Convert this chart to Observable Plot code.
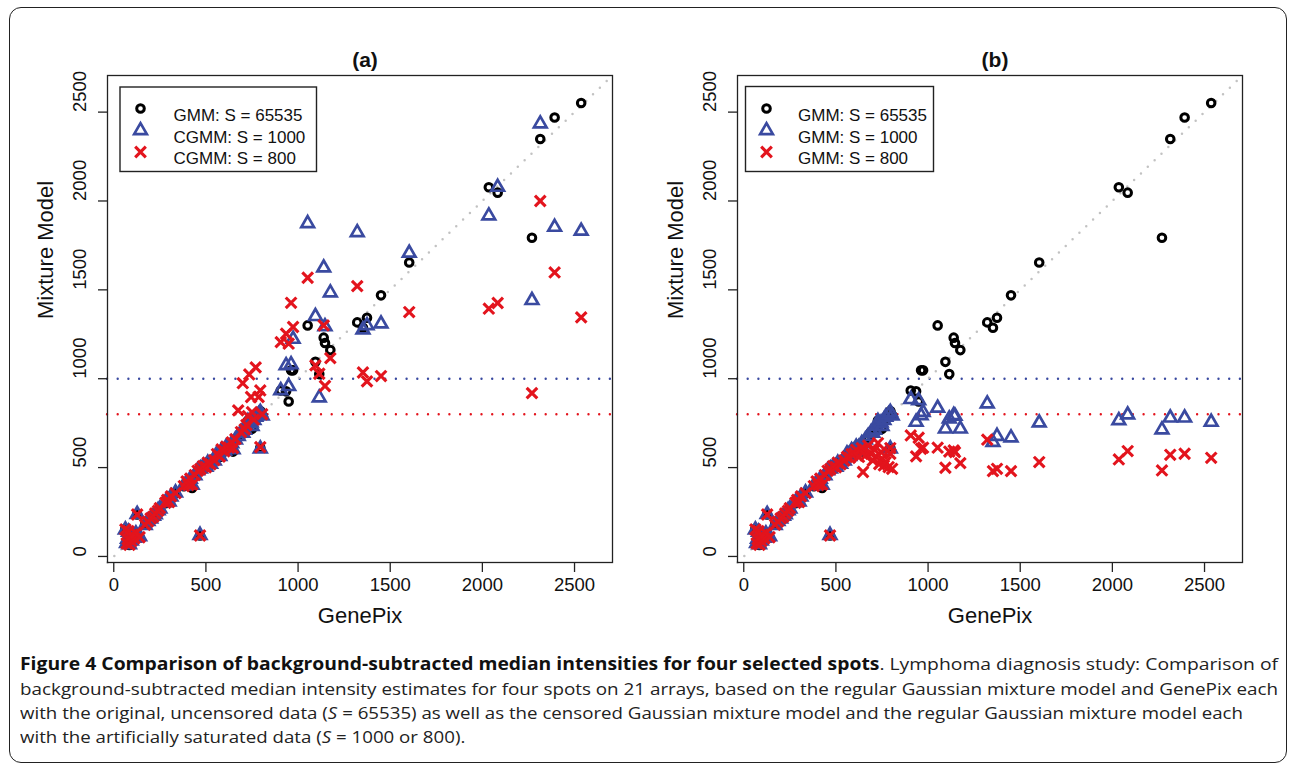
<!DOCTYPE html>
<html>
<head>
<meta charset="utf-8">
<script src="https://cdn.jsdelivr.net/npm/d3@7"></script>
<script src="https://cdn.jsdelivr.net/npm/@observablehq/plot@0.6"></script>
<style>
  body { margin: 0; background: #fff; }
  #wrap { position: relative; width: 1290px; height: 765px; overflow: hidden; background: #fff; }
  #border { position: absolute; left: 9px; top: 7px; width: 1278px; height: 756px; border: 1.5px solid #222; border-radius: 12px; box-sizing: border-box; }
  .panel { position: absolute; top: 0; }
  .cap { position: absolute; left: 20px; white-space: nowrap; font-family: "Open Sans", "Noto Sans", sans-serif; font-size: 17px; line-height: 24px; color: #222; transform-origin: 0 50%; }
  .cap b { color: #111; }
</style>
</head>
<body>
<div id="wrap">
  <div id="border"></div>
  <div id="pa" class="panel" style="left:0px"></div>
  <div id="pb" class="panel" style="left:630px"></div>
  <div class="cap" data-w="1258" style="top:652px"><b>Figure 4 Comparison of background-subtracted median intensities for four selected spots</b>. Lymphoma diagnosis study: Comparison of</div>
  <div class="cap" data-w="1258" style="top:677px">background-subtracted median intensity estimates for four spots on 21 arrays, based on the regular Gaussian mixture model and GenePix each</div>
  <div class="cap" data-w="1223" style="top:701px">with the original, uncensored data (<i>S</i> = 65535) as well as the censored Gaussian mixture model and the regular Gaussian mixture model each</div>
  <div class="cap" data-w="0" style="top:725px">with the artificially saturated data (<i>S</i> = 1000 or 800).</div>
</div>
<script>
// ---------------- data ----------------
const genepix = [
  2536, 2392, 2314, 2269, 2035, 2083, 1603, 1450, 1374, 1352, 1321,
  1052, 1139, 1146, 1175, 1094, 1115, 906, 935, 949, 962, 973,
  63, 70, 75, 80, 85, 90, 95, 100, 112, 120, 127, 140,
  170, 185, 200, 215, 225, 240, 250, 280, 290, 300, 310, 335,
  380, 395, 405, 415, 425, 440, 455, 468, 470, 485, 500, 510, 525,
  545, 560, 575, 585, 600, 610, 625, 640, 647, 660, 675,
  690, 700, 710, 720, 728, 735, 745, 750, 760, 770, 786, 795, 795, 805
];
const gmm65535 = [
  2551, 2470, 2349, 1793, 2077, 2047, 1654, 1469, 1343, 1287, 1317,
  1300, 1231, 1201, 1161, 1095, 1026, 934, 929, 872, 1047, 1047,
  156, 72, 95, 140, 65, 110, 85, 120, 100, 130, 236, 110,
  180, 195, 215, 225, 240, 255, 270, 300, 320, 305, 340, 355,
  395, 420, 400, 440, 385, 460, 480, 118, 490, 510, 500, 530, 515,
  540, 575, 560, 600, 590, 620, 610, 640, 590, 660, 670,
  700, 690, 715, 730, 765, 745, 755, 718, 770, 780, 803, 818, 612, 795
];
const cgmm1000 = [
  1831, 1853, 2435, 1441, 1917, 2078, 1707, 1309, 1300, 1276, 1823,
  1874, 1624, 1294, 1484, 1351, 893, 934, 1075, 957, 1080, 1223,
  150, 75, 98, 138, 68, 112, 88, 118, 104, 128, 238, 112,
  176, 198, 212, 228, 236, 258, 268, 304, 316, 308, 336, 358,
  398, 416, 404, 436, 402, 456, 484, 120, 494, 506, 504, 526, 520,
  538, 578, 564, 596, 594, 616, 614, 636, 602, 656, 676,
  696, 694, 712, 734, 760, 748, 752, 732, 766, 784, 798, 812, 606, 792
];
const cgmm800 = [
  1345, 1598, 2000, 919, 1394, 1426, 1375, 1015, 985, 1035, 1521,
  1568, 1300, 959, 1116, 1075, 1028, 1206, 1253, 1197, 1427, 1291,
  152, 74, 96, 142, 66, 114, 86, 122, 102, 132, 236, 108,
  178, 196, 214, 224, 242, 256, 272, 302, 318, 306, 338, 356,
  396, 422, 402, 438, 404, 458, 482, 118, 492, 508, 502, 528, 518,
  542, 576, 562, 602, 592, 618, 612, 642, 610, 660, 822,
  700, 975, 715, 740, 790, 1024, 897, 812, 770, 1064, 897, 934, 615, 800
];
const gmm1000 = [
  756, 780, 780, 713, 765, 797, 752, 668, 677, 643, 859,
  835, 794, 790, 718, 718, 775, 884, 756, 878, 793, 812,
  150, 75, 98, 138, 68, 112, 88, 118, 104, 128, 238, 112,
  176, 198, 212, 228, 236, 258, 268, 304, 316, 308, 336, 358,
  398, 416, 404, 436, 402, 456, 484, 120, 494, 506, 504, 526, 520,
  538, 578, 564, 596, 594, 616, 614, 636, 602, 656, 676,
  696, 694, 712, 734, 760, 748, 752, 732, 766, 784, 798, 812, 606, 792
];
const gmm800 = [
  555, 578, 572, 484, 546, 593, 531, 480, 493, 480, 657,
  612, 597, 587, 525, 499, 590, 681, 563, 668, 606, 612,
  152, 74, 96, 142, 66, 114, 86, 122, 102, 132, 236, 108,
  178, 196, 214, 224, 242, 256, 272, 302, 318, 306, 338, 356,
  396, 422, 402, 438, 404, 458, 482, 118, 492, 508, 502, 528, 518,
  540, 560, 555, 575, 580, 600, 560, 610, 475, 568, 624,
  578, 540, 600, 560, 638, 520, 587, 550, 512, 531, 503, 578, 610, 493
];
const xTicks = [0, 500, 1000, 1500, 2000, 2500];
const yTicks = [0, 500, 1000, 1500, 2000, 2500];
const thresholds = [1000, 800];
const axisDomain = [-34, 2706];
const labelsA = ["GMM: S = 65535", "CGMM: S = 1000", "CGMM: S = 800"];
const labelsB = ["GMM: S = 65535", "GMM: S = 1000", "GMM: S = 800"];

// ---------------- drawing ----------------
const BLUE = "#3a4aa0", RED = "#e3141d";
const FONT = "'Liberation Sans', Arial, Helvetica, sans-serif";
const diag = [{x1: axisDomain[0], y1: axisDomain[0], x2: axisDomain[1], y2: axisDomain[1]}];

function makePanel(title, s1, s2, labels, lg) {
  const rows = genepix.map((g, i) => ({g, gmm: gmm65535[i], s1: s1[i], s2: s2[i]}));
  const dotted = {strokeWidth: 2.4, strokeLinecap: "round", strokeDasharray: "0 10.7"};
  const symbols = [
    {symbol: "circle", r: 3.8, stroke: "#000", strokeWidth: 3},
    {symbol: "triangle", r: 4.7, stroke: BLUE, strokeWidth: 2.7},
    {symbol: "times", r: 4.9, stroke: RED, strokeWidth: 3.1}
  ];
  const legendMarks = [];
  labels.forEach((lab, k) => {
    const dy = [33, 55, 76.5][k];
    legendMarks.push(Plot.dot([lab], {frameAnchor: "top-left", dx: lg.sym, dy, fill: "none", ...symbols[k]}));
    legendMarks.push(Plot.text([lab], {frameAnchor: "top-left", dx: lg.txt, dy, text: d => d, textAnchor: "start", fontSize: 17, fill: "#111"}));
  });
  const svg = Plot.plot({
    width: 630, height: 640,
    marginTop: 75, marginLeft: 107, marginRight: 18, marginBottom: 78,
    x: {domain: axisDomain},
    y: {domain: axisDomain},
    style: {fontFamily: FONT, fontSize: "18.5px", background: "transparent", color: "#111", overflow: "visible"},
    marks: [
      Plot.ruleY([thresholds[0]], {stroke: BLUE, ...dotted}),
      Plot.ruleY([thresholds[1]], {stroke: RED, ...dotted}),
      Plot.link(diag, {x1: "x1", y1: "y1", x2: "x2", y2: "y2", stroke: "#c2c2c2", strokeWidth: 2.5, strokeLinecap: "round", strokeDasharray: "0 9.5"}),
      Plot.dot(rows, {x: "g", y: "gmm", fill: "none", ...symbols[0]}),
      Plot.dot(rows, {x: "g", y: "s1", fill: "none", ...symbols[1]}),
      Plot.dot(rows, {x: "g", y: "s2", fill: "none", ...symbols[2]}),
      Plot.frame({stroke: "#222", strokeWidth: 1.3}),
      Plot.axisX({ticks: xTicks, tickSize: 10, tickPadding: 5, tickFormat: d => String(d), label: null, stroke: "#222", strokeWidth: 1.3}),
      Plot.axisY({ticks: yTicks, tickSize: 9, tickFormat: () => "", label: null, stroke: "#222", strokeWidth: 1.3}),
      Plot.text(yTicks, {y: d => d, text: d => String(d), frameAnchor: "left", dx: -27, rotate: -90}),
      Plot.text([title], {frameAnchor: "top", dx: 5, dy: -23, text: d => d, fontWeight: "bold", fontSize: 21}),
      Plot.text(["GenePix"], {frameAnchor: "bottom", dy: 60, text: d => d, fontSize: 22}),
      Plot.text(["Mixture Model"], {frameAnchor: "left", dx: -62, rotate: -90, text: d => d, fontSize: 22}),
      ...legendMarks
    ]
  });
  d3.select(svg).append("rect")
    .attr("x", lg.box[0]).attr("y", lg.box[1]).attr("width", lg.box[2]).attr("height", lg.box[3])
    .attr("fill", "none").attr("stroke", "#222").attr("stroke-width", 1.4);
  return svg;
}

document.getElementById("pa").appendChild(
  makePanel("(a)", cgmm1000, cgmm800, labelsA, {sym: 33, txt: 66, box: [120, 87, 196.5, 84.5]}));
document.getElementById("pb").appendChild(
  makePanel("(b)", gmm1000, gmm800, labelsB, {sym: 29, txt: 60.5, box: [115.5, 86.5, 188, 85]}));

// condense caption lines to their measured widths (last line reuses the previous scale)
let lastScale = 1;
document.querySelectorAll(".cap").forEach(el => {
  const w = el.getBoundingClientRect().width;
  const target = +el.dataset.w;
  const s = target > 0 ? target / w : lastScale;
  lastScale = s;
  el.style.transform = `scaleX(${s})`;
});
</script>
</body>
</html>
